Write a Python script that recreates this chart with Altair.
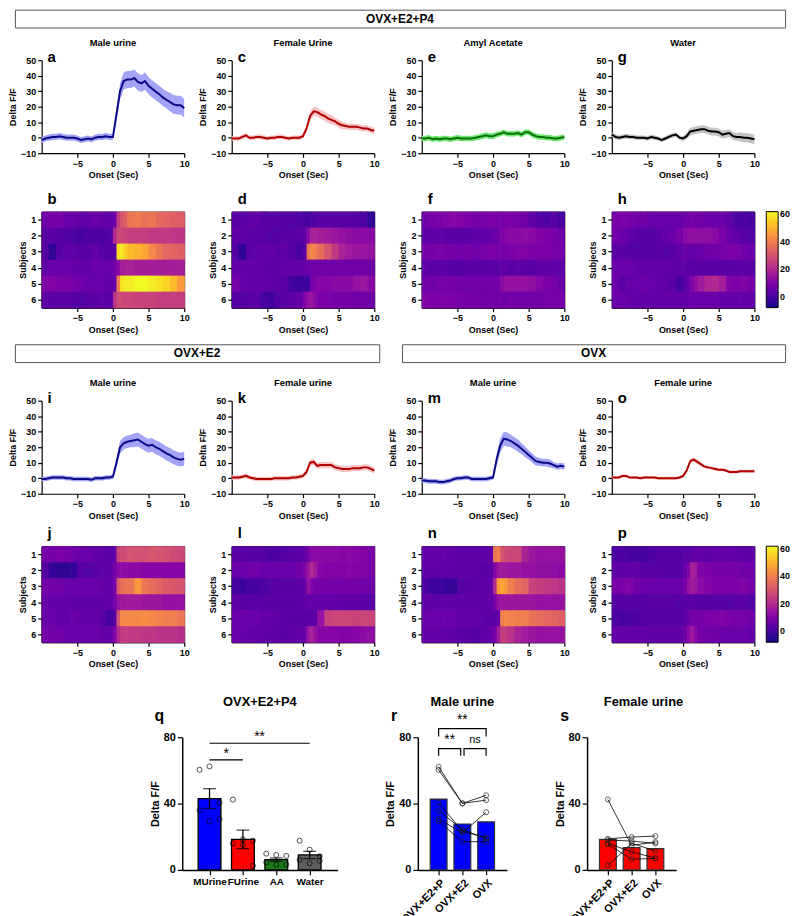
import altair as alt
import pandas as pd

FONT = "Liberation Sans"

# ---------------- time grid for traces ----------------
T = [-10, -9.5, -9, -8.5, -8, -7.5, -7, -6.5, -6, -5.5, -5, -4.5, -4, -3.5, -3, -2.5, -2, -1.5, -1, -0.5, 0,
     0.5, 1, 1.5, 2, 2.5, 3, 3.5, 4, 4.5, 5, 5.5, 6, 6.5, 7, 7.5, 8, 8.5, 9, 9.5, 10]

# OVX+E2+P4
A_MEAN = [-1.5, -0.5, 0, 0.5, 0.5, 1, 0.5, 0, 0, 0, -0.5, -1.5, -1, -0.5, -1, 0, 0.5, 0.5, 1, 0.5, 0.5,
          15, 30, 36.5, 37.5, 37.5, 38.5, 36, 35, 36.5, 33.5, 31.5, 29.7, 28, 26, 24.5, 23, 21.5, 21, 21, 19]
A_SEM = [2, 2, 2, 2, 2, 2, 2, 2, 2, 2, 2, 2, 2, 2, 2, 2, 2, 2, 2, 2, 2,
         4, 5, 5.5, 5.5, 5.5, 5.5, 5.5, 5.5, 5.5, 5.5, 5.5, 5.5, 5.5, 5.5, 5.5, 6, 6, 6, 6, 6]
C_MEAN = [-0.5, -0.5, -0.5, 0.5, 1.5, 0, 0, 0.5, 0.5, 0, -0.5, 0, 0, 0.5, 0.5, 0, -0.5, 0, 0, 0, 1,
          6, 14, 17, 16.5, 15, 14, 12.5, 11.5, 10.5, 9, 8, 7.5, 7, 7, 7, 6.5, 6, 6, 5, 4.5]
C_SEM = [1.5, 1.5, 1.5, 1.5, 1.5, 1.5, 1.5, 1.5, 1.5, 1.5, 1.5, 1.5, 1.5, 1.5, 1.5, 1.5, 1.5, 1.5, 1.5, 1.5, 1.5,
         2, 3, 3, 3, 3, 3, 3, 3, 2.5, 2.5, 2.5, 2, 2, 2, 2, 2, 2, 2, 2, 2]
E_MEAN = [-0.5, -0.5, 0, -1, -0.5, -1, -0.5, -0.5, -1, -0.5, 0, -0.5, -0.5, -0.5, -0.5, 0, 0.5, 1, 1.5, 1, 1,
          2, 2.5, 3.5, 2.5, 2.5, 2.5, 3, 2, 3.5, 3.5, 2, 1, 0.5, 0.5, 0, 0, -0.5, -0.5, 0, 0.5]
E_SEM = [1.8, 1.8, 1.8, 1.8, 1.8, 1.8, 1.8, 1.8, 1.8, 1.8, 1.8, 1.8, 1.8, 1.8, 1.8, 1.8, 1.8, 1.8, 1.8, 1.8, 1.8,
         1.8, 1.8, 1.8, 1.8, 1.8, 1.8, 1.8, 1.8, 1.8, 1.8, 1.8, 1.8, 1.8, 1.8, 1.8, 1.8, 1.8, 1.8, 1.8, 1.8]
G_MEAN = [2, 0.5, 0, 0.5, 1, 0.5, 0.5, 0, 0, 0, -0.5, 0.5, 0, -0.5, -1.5, -0.5, 0.5, 1.5, 2, 0, -0.5,
          1, 4, 4.5, 5, 5.5, 5.5, 4.5, 4, 4, 3.5, 2, 2.5, 3, 1, 0.5, 0.5, 0, 0, -0.5, -1]
G_SEM = [1.5, 1.5, 1.5, 1.5, 1.5, 1.5, 1.5, 1.5, 1.5, 1.5, 1.5, 1.5, 1.5, 1.5, 1.5, 1.5, 1.5, 1.5, 1.5, 1.5, 1.5,
         2, 2.5, 2.5, 2.5, 2.5, 2.5, 2.5, 2.5, 2.5, 2.5, 2.5, 2.5, 2.5, 2.5, 2.5, 3, 3, 3, 3, 3]
# OVX+E2
I_MEAN = [-0.5, -0.5, 0, 0.5, 0.5, 0.5, 0.5, 0, 0, -0.5, -0.5, -0.5, -0.5, -0.5, -1, 0, 0, 0, 0.5, 0.5, 1,
          10, 20, 22.5, 23.5, 24, 24.5, 25, 23.5, 22, 21, 21.5, 20, 19, 17.5, 16, 15, 13.5, 12.5, 12, 12.5]
I_SEM = [1.5, 1.5, 1.5, 1.5, 1.5, 1.5, 1.5, 1.5, 1.5, 1.5, 1.5, 1.5, 1.5, 1.5, 1.5, 1.5, 1.5, 1.5, 1.5, 1.5, 1.5,
         3, 4, 4, 4, 4, 4.5, 4.5, 4.5, 4.5, 4.5, 4.5, 4.5, 4.5, 4.5, 4.5, 4.5, 4.5, 4.5, 4.5, 4.5]
K_MEAN = [0.5, 0.5, 0.5, 1, 1.5, 0.5, 0, -0.5, -0.5, -0.5, -0.5, -0.5, 0, 0, 0, 0, 0, 0.5, 0.5, 1, 1.5,
          4, 10, 10.5, 8, 8.5, 8.5, 8.5, 8.5, 7, 6.5, 6, 6, 6, 6.5, 6.5, 6.5, 7, 7, 6, 5]
K_SEM = [1.5, 1.5, 1.5, 1.5, 1.5, 1.5, 1.5, 1.5, 1.5, 1.5, 1.5, 1.5, 1.5, 1.5, 1.5, 1.5, 1.5, 1.5, 1.5, 1.5, 1.5,
         2, 2, 2, 2, 2, 2, 2, 2, 2, 2, 2, 2, 2, 2, 2, 2, 2, 2, 2, 2]
# OVX
M_MEAN = [-1.5, -1.5, -2, -2, -2, -2.5, -2.5, -2, -1.5, -0.5, 0, 0, 0.5, 0.5, -0.5, -0.5, -0.5, -0.5, -0.5, 0, 0.5,
          12, 21, 25.5, 25, 24, 22.5, 21, 19, 17, 15, 13, 11, 10.5, 10, 10, 9.5, 8.5, 7.5, 8, 7.5]
M_SEM = [1.5, 1.5, 1.5, 1.5, 1.5, 1.5, 1.5, 1.5, 1.5, 1.5, 1.5, 1.5, 1.5, 1.5, 1.5, 1.5, 1.5, 1.5, 1.5, 1.5, 1.5,
         4, 4.5, 4.5, 4.5, 4, 4, 4, 3.5, 3.5, 3, 3, 3, 2.5, 2.5, 2.5, 2.5, 2, 2, 2, 2]
O_MEAN = [0.5, 0.5, 0.5, 1.5, 1.5, 0.5, 0.5, 0.5, 0, 0.5, 0.5, 0.5, 0.5, 0, 0, 0, 0, 0, 0, 0.5, 1.5,
          5, 11, 12, 10.5, 9, 7.5, 7, 6.5, 6, 5.5, 5.5, 5, 4, 4, 4, 4.5, 4.5, 4.5, 4.5, 4.5]
O_SEM = [1, 1, 1, 1, 1, 1, 1, 1, 1, 1, 1, 1, 1, 1, 1, 1, 1, 1, 1, 1, 1,
         1.5, 1.5, 1.5, 1.5, 1.5, 1, 1, 1, 1, 1, 1, 1, 1, 1, 1, 1, 1, 1, 1, 1]

# ---------------- heatmaps: 6 subjects x time bins ----------------
HM_EDGES = [-10, -9, -8, -7, -6, -5, -4, -3, -2, -1, 0, 0.5, 1, 1.5, 2, 3, 4, 5, 6, 7, 8, 9, 10]
HM_B = [[7, 8, 8, 6, 6, 5, 5, 6, 5, 5, 6, 25, 30, 33, 38, 39, 37, 38, 35, 34, 33, 32],
        [3, 3, 2, 2, 1, 0, 1, 1, 1, 2, 20, 27, 27, 26, 25, 25, 25, 24, 24, 24, 23, 23],
        [2, -4, 2, 4, 4, 3, 3, 5, 2, 2, 3, 58, 60, 55, 52, 50, 48, 42, 38, 35, 34, 33],
        [5, 6, 6, 6, 5, 5, 5, 6, 6, 6, 8, 12, 17, 18, 18, 17, 17, 17, 17, 17, 17, 17],
        [10, 10, 9, 9, 8, 7, 6, 6, 6, 5, 5, 40, 58, 60, 60, 62, 62, 60, 58, 56, 52, 46],
        [4, 3, 3, 3, 2, 2, 3, 3, 4, 3, 22, 28, 28, 27, 27, 26, 26, 26, 25, 25, 25, 25]]
HM_D = [[3, 3, 4, 4, 3, 3, 3, 2, 2, 2, 0, 0, 1, 2, 3, 3, 3, 3, 3, 2, 1, -3],
        [4, 4, 3, 3, 3, 2, 2, 3, 3, 3, 5, 12, 18, 18, 17, 16, 15, 14, 13, 12, 12, 12],
        [2, -4, 3, 4, 4, 5, 3, 4, 2, 0, 3, 38, 42, 40, 36, 30, 24, 18, 16, 15, 15, 14],
        [5, 5, 5, 5, 4, 4, 4, 5, 5, 5, 6, 6, 7, 7, 7, 7, 7, 7, 7, 7, 7, 7],
        [8, 6, 5, 5, 5, 4, 4, 3, -1, -2, -2, -1, 8, 10, 11, 11, 12, 12, 12, 14, 15, 12],
        [2, 2, 3, 3, 0, -1, 2, 3, 4, 5, 10, 14, 15, 12, 9, 9, 8, 8, 8, 7, 7, 7]]
HM_F = [[7, 8, 9, 10, 11, 10, 9, 8, 8, 9, 8, 8, 8, 9, 9, 8, 7, 4, 2, 1, 3, 0],
        [4, 4, 4, 3, 3, 3, 3, 4, 4, 5, 6, 7, 10, 11, 12, 12, 13, 12, 10, 9, 8, 7],
        [8, 8, 9, 8, 8, 7, 8, 7, 8, 9, 8, 8, 8, 8, 9, 10, 10, 9, 9, 9, 8, 8],
        [4, 3, 3, 3, 2, 2, 3, 3, 3, 3, 3, 3, 4, 4, 3, 4, 3, 3, 4, 4, 4, 4],
        [7, 7, 8, 8, 8, 7, 7, 7, 7, 7, 7, 8, 12, 14, 14, 14, 14, 13, 11, 9, 8, 6],
        [10, 9, 9, 9, 9, 8, 8, 8, 7, 7, 7, 7, 7, 7, 8, 7, 7, 7, 7, 8, 8, 8]]
HM_H = [[8, 9, 8, 7, 7, 6, 6, 6, 6, 6, 7, 7, 8, 7, 7, 6, 6, 6, 4, 1, 1, 0],
        [7, 6, 4, 3, 2, 2, 3, 5, 6, 9, 12, 13, 13, 13, 13, 13, 12, 9, 6, 4, 3, 2],
        [3, 3, 2, 2, 2, 2, 3, 2, 3, 4, 6, 5, 5, 6, 6, 7, 7, 8, 9, 9, 7, 6],
        [6, 6, 6, 5, 5, 5, 5, 5, 4, 4, 4, 3, 3, 3, 3, 3, 3, 3, 3, 3, 3, 3],
        [6, 3, 5, 6, 6, 6, 5, 4, 3, 0, 2, 6, 10, 13, 16, 19, 20, 17, 10, 9, 10, 8],
        [6, 6, 5, 5, 5, 5, 5, 5, 5, 5, 5, 6, 6, 6, 6, 6, 6, 5, 5, 5, 5, 5]]
HM_J = [[8, 8, 9, 8, 7, 6, 6, 5, 4, 3, 5, 26, 28, 28, 30, 29, 29, 31, 30, 29, 28, 27],
        [2, -3, -4, -4, -3, 3, 2, 3, 4, 4, 8, 12, 13, 12, 12, 12, 11, 11, 11, 11, 11, 11],
        [8, 7, 7, 6, 6, 6, 6, 6, 5, 5, 8, 32, 36, 38, 38, 45, 38, 36, 34, 32, 31, 30],
        [6, 5, 5, 5, 4, 4, 4, 4, 4, 5, 8, 14, 16, 16, 16, 16, 15, 15, 15, 14, 14, 14],
        [6, 6, 5, 5, 6, 5, 5, 5, 3, 0, 2, 30, 42, 42, 42, 42, 43, 42, 41, 40, 40, 38],
        [8, 7, 7, 6, 6, 6, 6, 6, 5, 5, 10, 20, 24, 25, 24, 24, 23, 23, 22, 22, 22, 21]]
HM_L = [[3, 3, 2, 2, 2, 1, 1, 2, 3, 3, 4, 8, 12, 12, 12, 12, 12, 11, 12, 11, 10, 9],
        [6, 6, 7, 7, 6, 6, 6, 6, 6, 7, 10, 15, 20, 16, 11, 10, 10, 10, 11, 10, 10, 8],
        [0, -2, 0, 0, 1, 2, 3, 3, 3, 3, 5, 14, 10, 8, 8, 8, 8, 8, 8, 8, 7, 7],
        [4, 3, 3, 3, 3, 3, 3, 3, 3, 3, 4, 4, 5, 5, 5, 5, 5, 4, 4, 4, 3, 3],
        [6, 6, 6, 6, 5, 5, 4, 3, 3, 3, 3, 3, 3, 4, 14, 26, 27, 27, 27, 26, 27, 26],
        [6, 6, 5, 5, 4, 4, 3, 3, 4, 4, 6, 15, 18, 14, 11, 11, 11, 10, 10, 11, 12, 13]]
HM_N = [[5, 5, 5, 5, 4, 4, 4, 4, 4, 4, 38, 40, 30, 28, 27, 27, 18, 15, 14, 14, 14, 14],
        [4, 4, 4, 4, 4, 4, 4, 4, 3, 3, 10, 15, 16, 16, 15, 15, 14, 14, 13, 13, 13, 12],
        [1, -2, -2, -3, -3, 2, 3, 3, 4, 4, 20, 45, 48, 46, 40, 36, 34, 26, 25, 24, 23, 22],
        [4, 4, 4, 4, 4, 4, 4, 4, 4, 4, 8, 14, 15, 15, 15, 15, 15, 15, 14, 14, 14, 14],
        [6, 6, 6, 6, 6, 5, 5, 5, 4, 3, 3, 5, 40, 42, 41, 40, 40, 37, 36, 35, 34, 33],
        [5, 5, 5, 4, 4, 3, 3, 2, 4, 5, 8, 16, 25, 25, 22, 18, 16, 15, 14, 14, 14, 14]]
HM_P = [[1, 1, 0, 0, 0, 1, 2, 2, 2, 2, 3, 3, 4, 5, 5, 4, 5, 5, 5, 4, 4, 4],
        [4, 4, 4, 4, 3, 3, 3, 2, 2, 2, 5, 10, 18, 16, 10, 9, 8, 8, 8, 8, 7, 7],
        [8, 9, 10, 7, 6, 6, 6, 6, 6, 6, 8, 14, 16, 15, 12, 10, 9, 9, 9, 9, 10, 8],
        [2, 2, 2, 2, 2, 3, 3, 3, 3, 2, 2, 3, 3, 3, 2, 2, 2, 2, 2, 3, 3, 2],
        [1, 0, 1, 1, 2, 2, 2, 2, 2, 2, 3, 6, 8, 8, 8, 9, 9, 10, 9, 8, 8, 7],
        [5, 5, 5, 5, 5, 4, 4, 4, 4, 4, 6, 12, 16, 12, 8, 7, 7, 6, 6, 6, 6, 5]]

# ---------------- bar panels ----------------
Q_CATS = ["MUrine", "FUrine", "AA", "Water"]
Q_MEAN = [43.0, 18.4, 6.2, 9.0]
Q_SEM = [6.0, 5.6, 1.0, 2.2]
Q_POINTS = [[60.4, 62.4, 40.6, 36.0, 29.2, 30.6],
            [42.4, 18.4, 17.6, 16.0, 15.2, 2.4],
            [9.8, 9.0, 8.4, 4.6, 3.2, 3.2],
            [17.6, 12.2, 8.2, 6.0, 4.0, 5.6]]
Q_COLORS = ["#0000FF", "#FF0000", "#1C7A1C", "#5E5E5E"]
Q_SIG = [("*", 0, 1, 66.4), ("**", 0, 3, 76.4)]

R_CATS = ["OVX+E2+P", "OVX+E2", "OVX"]
R_BAR = [42.7, 27.7, 29.0]
R_SUBJECTS = [[62.2, 40.1, 45.0], [60.3, 40.1, 42.1], [40.5, 23.3, 19.4],
              [35.8, 24.3, 18.8], [30.8, 22.3, 34.8], [29.4, 17.0, 17.0]]
R_BRACKETS = [("**", 0, 2, 80.5, 85.2), ("**", 0, 0.93, 68.8, 73.1), ("ns", 1.07, 2, 68.8, 73.1)]

S_BAR = [18.4, 13.4, 12.8]
S_SUBJECTS = [[42.5, 14.8, 16.8], [18.8, 19.8, 20.4], [18.0, 17.4, 16.0],
              [16.0, 10.9, 7.1], [15.4, 6.5, 6.9], [2.6, 16.0, 11.5]]

LW, LH = 144, 94
HW, HH = 144, 97
COLSP = 48


def letter_layer(letter, dx, dy, size=15):
    return alt.Chart(pd.DataFrame({"l": [letter]})).mark_text(
        align="left", baseline="middle", fontSize=size, fontWeight="bold", font=FONT, color="black"
    ).encode(text="l:N", x=alt.value(dx), y=alt.value(dy))


def trace_panel(title, letter, mean, sem, line_c, band_c):
    df = pd.DataFrame({"t": T, "m": mean, "s": sem})
    base = alt.Chart(df).transform_calculate(lo="datum.m - datum.s", hi="datum.m + datum.s")
    x = alt.X("t:Q", scale=alt.Scale(domain=[-10, 10], nice=False, zero=False),
              axis=alt.Axis(values=[-5, 0, 5, 10], title="Onset (Sec)"))
    ysc = alt.Scale(domain=[-10, 50], nice=False)
    yax = alt.Axis(values=[-10, 0, 10, 20, 30, 40, 50], title="Delta F/F")
    band = base.mark_area(color=band_c).encode(x=x, y=alt.Y("lo:Q", scale=ysc, axis=yax), y2="hi:Q")
    line = base.mark_line(color=line_c, strokeWidth=2).encode(x=x, y=alt.Y("m:Q", scale=ysc, axis=yax))
    return alt.layer(band, line, letter_layer(letter, 6, -3)).properties(
        width=LW, height=LH, title=alt.TitleParams(title, fontSize=9.5, offset=3))


def heat_panel(letter, rows, legend=False):
    recs = []
    for si, row in enumerate(rows):
        for bi, v in enumerate(row):
            recs.append({"s": si + 1, "x0": HM_EDGES[bi], "x1": HM_EDGES[bi + 1], "v": v})
    df = pd.DataFrame(recs)
    sc = alt.Scale(scheme="plasma", domain=[-8, 62], clamp=True)
    if legend:
        leg = alt.Legend(type="gradient", title=None, orient="right", offset=12, padding=0,
                         gradientLength=HH, gradientThickness=12, values=[0, 20, 40, 60],
                         gradientStrokeColor="black", gradientStrokeWidth=1, labelFontSize=9,
                         labelFontWeight="bold", labelFont=FONT, labelOffset=2)
        color = alt.Color("v:Q", scale=sc, legend=leg)
    else:
        color = alt.Color("v:Q", scale=sc, legend=None)
    rect = alt.Chart(df).transform_calculate(
        y0="datum.s - 0.5", y1="datum.s + 0.5"
    ).mark_rect(strokeWidth=0, x2Offset=0.7, y2Offset=0.7).encode(
        x=alt.X("x0:Q", scale=alt.Scale(domain=[-10, 10], nice=False, zero=False),
                axis=alt.Axis(values=[-5, 0, 5, 10], title="Onset (Sec)")),
        x2="x1:Q",
        y=alt.Y("y0:Q", scale=alt.Scale(domain=[0.5, 6.5], reverse=True, nice=False, zero=False),
                axis=alt.Axis(values=[1, 2, 3, 4, 5, 6], format="d", title="Subjects")),
        y2="y1:Q",
        color=color,
    )
    return alt.layer(rect, letter_layer(letter, 6, -13)).properties(
        width=HW, height=HH, view=alt.ViewBackground(stroke="black", strokeWidth=1))


def header(text, width):
    return alt.Chart(pd.DataFrame({"t": [text]})).mark_text(
        font=FONT, fontSize=12, fontWeight="bold", color="black"
    ).encode(text="t:N").properties(
        width=width, height=18, view=alt.ViewBackground(stroke="#555555", strokeWidth=1))


BAR_AX = dict(labelFontSize=11, titleFontSize=11, tickSize=5)


def q_panel():
    dfb = pd.DataFrame({"i": list(range(4)), "c": Q_CATS, "m": Q_MEAN, "e": Q_SEM})
    recs = []
    for i, pts in enumerate(Q_POINTS):
        for k, v in enumerate(pts):
            recs.append({"i": i, "k": k, "v": v})
    dfp = pd.DataFrame(recs)
    xsc = alt.Scale(domain=[-0.67, 3.69], nice=False, zero=False)
    xax = alt.Axis(values=[0, 1, 2, 3], title=None, labelExpr="['MUrine','FUrine','AA','Water'][datum.value]",
                   domainWidth=1.5, labelFontSize=10, tickSize=5)
    ysc = alt.Scale(domain=[0, 80], nice=False)
    yax = alt.Axis(values=[0, 20, 40, 60, 80], title="Delta F/F", domainWidth=1.5, **BAR_AX)
    bars = alt.Chart(dfb).mark_bar(size=23, stroke="black", strokeWidth=1.3).encode(
        x=alt.X("i:Q", scale=xsc, axis=xax), y=alt.Y("m:Q", scale=ysc, axis=yax),
        color=alt.Color("c:N", scale=alt.Scale(domain=Q_CATS, range=Q_COLORS), legend=None))
    eb = alt.Chart(dfb).transform_calculate(lo="datum.m - datum.e", hi="datum.m + datum.e")
    rule = eb.mark_rule(color="black", strokeWidth=1.3).encode(x="i:Q", y="lo:Q", y2="hi:Q")
    cap_hi = eb.mark_tick(color="black", orient="horizontal", size=13, thickness=1.3).encode(x="i:Q", y="hi:Q")
    cap_lo = eb.mark_tick(color="black", orient="horizontal", size=13, thickness=1.3).encode(x="i:Q", y="lo:Q")
    pts = alt.Chart(dfp).transform_calculate(
        xj="datum.i + ((datum.k % 3) - 1) * 0.3"
    ).mark_point(shape="circle", filled=False, color="black", size=26, strokeWidth=1).encode(
        x="xj:Q", y="v:Q")
    dfs = pd.DataFrame([{"lab": s, "a": a, "b": b, "y": y} for s, a, b, y in Q_SIG])
    sbase = alt.Chart(dfs).transform_calculate(mid="(datum.a + datum.b) / 2", ty="datum.y + 3.5")
    srule = sbase.mark_rule(color="black", strokeWidth=1.2).encode(x="a:Q", x2="b:Q", y="y:Q")
    stext = sbase.mark_text(fontSize=14, baseline="middle", font=FONT, color="black").encode(
        x="mid:Q", y="ty:Q", text="lab:N")
    return alt.layer(bars, rule, cap_hi, cap_lo, pts, srule, stext, letter_layer("q", -28, -21, 16)).properties(
        width=157, height=134, title=alt.TitleParams("OVX+E2+P4", fontSize=13, offset=0, frame="group"))


def paired_panel(title, letter, bar_vals, subjects, brackets, dx=0):
    dfb = pd.DataFrame({"i": [0, 1, 2], "m": bar_vals})
    recs = []
    for sidx, vals in enumerate(subjects):
        for i, v in enumerate(vals):
            recs.append({"subj": sidx, "i": i, "v": v})
    dfp = pd.DataFrame(recs)
    xsc = alt.Scale(domain=[-0.667, 2.667], nice=False, zero=False)
    xax = alt.Axis(values=[0, 1, 2], title=None, labelAngle=315,
                   labelExpr="['OVX+E2+P','OVX+E2','OVX'][datum.value]", domainWidth=1.5, **BAR_AX)
    ysc = alt.Scale(domain=[0, 80], nice=False)
    yax = alt.Axis(values=[0, 20, 40, 60, 80], title="Delta F/F", domainWidth=1.5, **BAR_AX)
    fill = "#0000FF" if title == "Male urine" else "#FF0000"
    bars = alt.Chart(dfb).mark_bar(size=17, color=fill, stroke="#333333", strokeWidth=1.2).encode(
        x=alt.X("i:Q", scale=xsc, axis=xax), y=alt.Y("m:Q", scale=ysc, axis=yax))
    lines = alt.Chart(dfp).mark_line(color="black", strokeWidth=0.8).encode(
        x="i:Q", y="v:Q", detail="subj:N")
    pts = alt.Chart(dfp).mark_point(shape="circle", filled=False, color="#222222", size=26, strokeWidth=1).encode(
        x="i:Q", y="v:Q")
    layers = [bars, lines, pts]
    if brackets:
        recs = []
        for bi, (lab, a, b, low, top) in enumerate(brackets):
            recs += [{"g": bi, "o": 0, "x": a, "y": low}, {"g": bi, "o": 1, "x": a, "y": top},
                     {"g": bi, "o": 2, "x": b, "y": top}, {"g": bi, "o": 3, "x": b, "y": low}]
        dfbr = pd.DataFrame(recs)
        layers.append(alt.Chart(dfbr).mark_line(color="black", strokeWidth=1.2).encode(
            x="x:Q", y="y:Q", detail="g:N", order="o:Q"))
        dft = pd.DataFrame([{"lab": lab, "a": a, "b": b, "top": top} for lab, a, b, low, top in brackets])
        tb = alt.Chart(dft).transform_calculate(mid="(datum.a + datum.b) / 2", ty="datum.top + 5")
        layers.append(tb.transform_filter("datum.lab != 'ns'").mark_text(
            fontSize=14, baseline="middle", font=FONT, color="black").encode(x="mid:Q", y="ty:Q", text="lab:N"))
        layers.append(tb.transform_filter("datum.lab == 'ns'").mark_text(
            fontSize=11, baseline="middle", font=FONT, color="black").encode(x="mid:Q", y="ty:Q", text="lab:N"))
    layers.append(letter_layer(letter, -27, -21, 16))
    return alt.layer(*layers).properties(
        width=90, height=134, title=alt.TitleParams(title, fontSize=13, offset=0, frame="group", dx=dx))


def spacer(w, h=1):
    return alt.Chart(pd.DataFrame({"a": [0]})).mark_rect(opacity=0).properties(width=w, height=h)


def row(charts, spacing=COLSP):
    return alt.hconcat(*charts, spacing=spacing, bounds="flush").resolve_scale(
        color="independent").resolve_legend(color="independent")


def lead_row(charts):
    # leading 1px spacer so that the row's origin sits at the left edge of the y-axis titles
    return row([spacer(1), row(charts)], spacing=26)


MALE_LINE, MALE_BAND = "#0A0A86", "#A4A4F6"
FEM_LINE, FEM_BAND = "#B00000", "#F6C4C4"

row1 = lead_row([
    trace_panel("Male urine", "a", A_MEAN, A_SEM, MALE_LINE, MALE_BAND),
    trace_panel("Female Urine", "c", C_MEAN, C_SEM, FEM_LINE, FEM_BAND),
    trace_panel("Amyl Acetate", "e", E_MEAN, E_SEM, "#0B6E0B", "#6FE86F"),
    trace_panel("Water", "g", G_MEAN, G_SEM, "black", "#C4C4C4"),
])
row2 = lead_row([heat_panel("b", HM_B), heat_panel("d", HM_D), heat_panel("f", HM_F), heat_panel("h", HM_H, True)])
row4 = lead_row([
    trace_panel("Male urine", "i", I_MEAN, I_SEM, MALE_LINE, MALE_BAND),
    trace_panel("Female urine", "k", K_MEAN, K_SEM, FEM_LINE, FEM_BAND),
    trace_panel("Male urine", "m", M_MEAN, M_SEM, MALE_LINE, MALE_BAND),
    trace_panel("Female urine", "o", O_MEAN, O_SEM, FEM_LINE, FEM_BAND),
])
row5 = lead_row([heat_panel("j", HM_J), heat_panel("l", HM_L), heat_panel("n", HM_N), heat_panel("p", HM_P, True)])
h1 = header("OVX+E2+P4", 778)
h2 = row([header("OVX+E2", 368), header("OVX", 387)], spacing=23)
row6 = row([spacer(88, 10), q_panel(),
            paired_panel("Male urine", "r", R_BAR, R_SUBJECTS, R_BRACKETS),
            paired_panel("Female urine", "s", S_BAR, S_SUBJECTS, [], dx=12)], spacing=81)

# one flat column; gaps between blocks are set by invisible spacer rows
top = alt.concat(
    h1, spacer(1, 9), row1, spacer(1, 11), row2, spacer(1, 8), h2, spacer(1, 15),
    row4, spacer(1, 5), row5, spacer(1, 26), row6,
    columns=1, align="none", bounds="full", spacing=0,
).resolve_scale(color="independent").resolve_legend(color="independent")

chart = top.properties(padding={"left": 0, "top": -4, "right": 0, "bottom": 0}).configure(
    font=FONT
).configure_view(strokeWidth=0).configure_axis(
    labelFont=FONT, titleFont=FONT, labelFontWeight="bold", titleFontWeight="bold",
    labelFontSize=9, titleFontSize=9, labelColor="black", titleColor="black",
    domainColor="black", tickColor="black", grid=False, labelFlush=False, labelOverlap=False,
    tickSize=4, domainWidth=1.2, tickWidth=1.2, labelPadding=2, titlePadding=3
).configure_title(font=FONT, fontWeight="bold", color="black", anchor="middle").configure_legend(
    labelFont=FONT, labelFontWeight="bold", labelColor="black")

chart.save("out.html", embed_options={"renderer": "svg", "actions": False})
